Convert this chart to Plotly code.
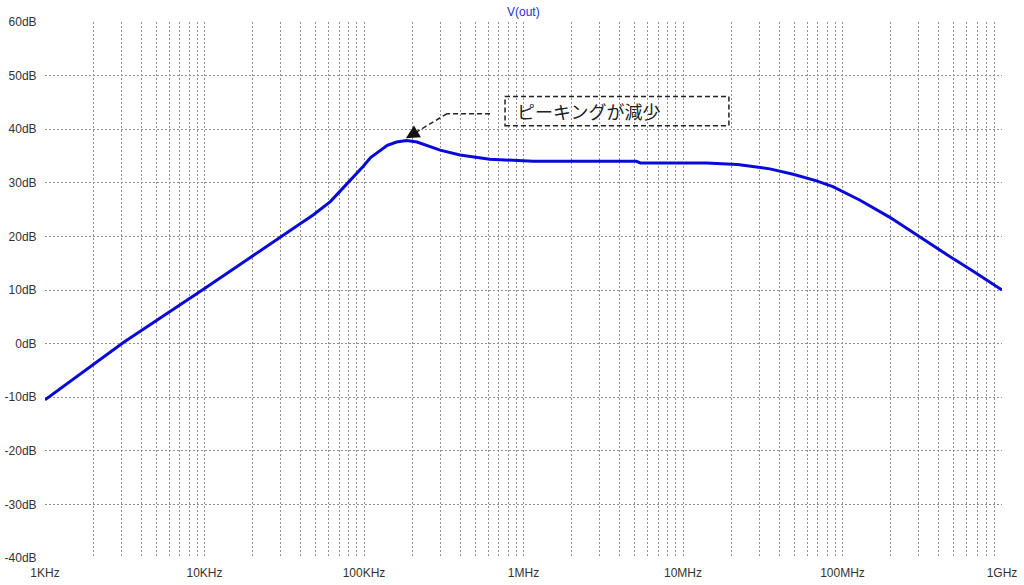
import math
import plotly.graph_objects as go

# ---- data ----
freq_hz = [1e3, 3.1e3, 9.8e3, 31e3, 40e3, 48e3, 55e3, 61.5e3, 70.6e3, 81e3, 92e3, 99e3,
           110e3, 125e3, 140e3, 160e3, 185e3, 215e3, 260e3, 300e3, 400e3, 614e3,
           1.15e6, 5.1e6, 5.4e6, 14e6, 22e6, 35e6, 49e6, 68e6, 87e6, 128e6, 197e6,
           290e6, 450e6, 660e6, 1e9]
gain_db = [-10.5, 0.2, 10.1, 20.3, 22.4, 24.0, 25.3, 26.5, 28.4, 30.3, 31.9, 33.1,
           34.7, 36.0, 37.0, 37.6, 37.9, 37.6, 36.8, 36.1, 35.2, 34.4,
           34.0, 34.0, 33.7, 33.7, 33.4, 32.6, 31.6, 30.4, 29.3, 26.8, 23.6,
           20.3, 16.6, 13.5, 10.0]

x_ticks = [1e3, 1e4, 1e5, 1e6, 1e7, 1e8, 1e9]
x_labels = ["1KHz", "10KHz", "100KHz", "1MHz", "10MHz", "100MHz", "1GHz"]
y_ticks = list(range(-40, 61, 10))
y_labels = [f"{v}dB" for v in y_ticks]

title_text = "V(out)"
note_text = "ピーキングが減少"

X_LOG_RANGE = (3, 9)
Y_RANGE = (-40, 60)
W, H = 1024, 585
M = dict(l=45, r=22, t=22, b=27)
PLOT_W = W - M["l"] - M["r"]
PLOT_H = H - M["t"] - M["b"]

# annotation anchors (frequency, dB)
box_f = (7.66e5, 1.94e7)
box_db = (40.65, 46.1)
text_f = 8.9e5
text_db = 43.45
arrow_pts = [(6.17e5, 42.9), (3.32e5, 42.9), (1.83e5, 38.3)]

# all x tick/grid positions: 1..9 per decade, labels only on decades
x_all = []
x_all_text = []
for d in range(3, 10):
    for m in range(1, 10):
        v = m * 10 ** d
        if v > 1e9:
            break
        x_all.append(v)
        x_all_text.append(x_labels[x_ticks.index(v)] if v in x_ticks else "")


def px(f):
    """frequency -> paper fraction along the log x axis"""
    return (math.log10(f) - X_LOG_RANGE[0]) / (X_LOG_RANGE[1] - X_LOG_RANGE[0])


def py(db):
    return (db - Y_RANGE[0]) / (Y_RANGE[1] - Y_RANGE[0])


FONT = "Arial, Liberation Sans, sans-serif"
GRID = "#909090"
BLUE = "#0a0ad6"
INK = "#222222"

fig = go.Figure()
fig.add_trace(go.Scatter(x=freq_hz, y=gain_db, mode="lines",
                         line=dict(color=BLUE, width=3), showlegend=False,
                         hoverinfo="skip"))

fig.update_layout(
    width=W, height=H,
    margin=M,
    paper_bgcolor="white", plot_bgcolor="white",
    font=dict(family=FONT, size=12, color="#333333"),
    xaxis=dict(type="log", range=list(X_LOG_RANGE), tickvals=x_all, ticktext=x_all_text,
               showgrid=True, gridcolor=GRID, gridwidth=1, griddash="2px,2px",
               zeroline=False, showline=False, automargin=False,
               ticks="outside", ticklen=4, tickcolor="rgba(0,0,0,0)",
               tickfont=dict(size=12, color="#333333")),
    yaxis=dict(range=list(Y_RANGE), tickvals=y_ticks, ticktext=y_labels,
               showgrid=True, gridcolor=GRID, gridwidth=1, griddash="2px,2px",
               zeroline=False, showline=False, automargin=False,
               ticks="outside", ticklen=5, tickcolor="rgba(0,0,0,0)",
               tickfont=dict(size=12, color="#333333")),
)

# title
fig.add_annotation(text=title_text, xref="paper", yref="paper", x=0.5, y=1,
                   yshift=10, xanchor="center", yanchor="middle", showarrow=False,
                   font=dict(family=FONT, size=12, color="#2b2bd6"))

# dashed box
fig.add_shape(type="rect", xref="paper", yref="paper",
              x0=px(box_f[0]), x1=px(box_f[1]),
              y0=py(box_db[0]), y1=py(box_db[1]),
              line=dict(color=INK, width=1.5, dash="5px,3px"),
              fillcolor="rgba(0,0,0,0)", layer="above")
fig.add_annotation(text=note_text, xref="paper", yref="paper",
                   x=px(text_f), y=py(text_db), xanchor="left", yanchor="middle",
                   showarrow=False,
                   font=dict(family="Noto Sans CJK JP", size=18, color=INK))

# dashed leader line (two segments)
for (f0, d0), (f1, d1) in zip(arrow_pts[:-1], arrow_pts[1:]):
    fig.add_shape(type="line", xref="paper", yref="paper",
                  x0=px(f0), y0=py(d0), x1=px(f1), y1=py(d1),
                  line=dict(color=INK, width=1.5, dash="5px,3px"), layer="above")
# arrow head (short arrow along the last segment)
tip_f, tip_d = arrow_pts[-1]
tail_f, tail_d = arrow_pts[-2]
dx = (px(tail_f) - px(tip_f)) * PLOT_W
dy = -(py(tail_d) - py(tip_d)) * PLOT_H
fig.add_annotation(text="", xref="paper", yref="paper",
                   x=px(tip_f), y=py(tip_d),
                   ax=dx, ay=dy, axref="pixel", ayref="pixel", showarrow=True,
                   arrowhead=2, arrowsize=1.8, arrowwidth=1.5, arrowcolor="#111111",
                   standoff=0, startstandoff=34)

fig.write_html("out.html", config={"displayModeBar": False},
               post_script="document.body.style.margin='0';")
